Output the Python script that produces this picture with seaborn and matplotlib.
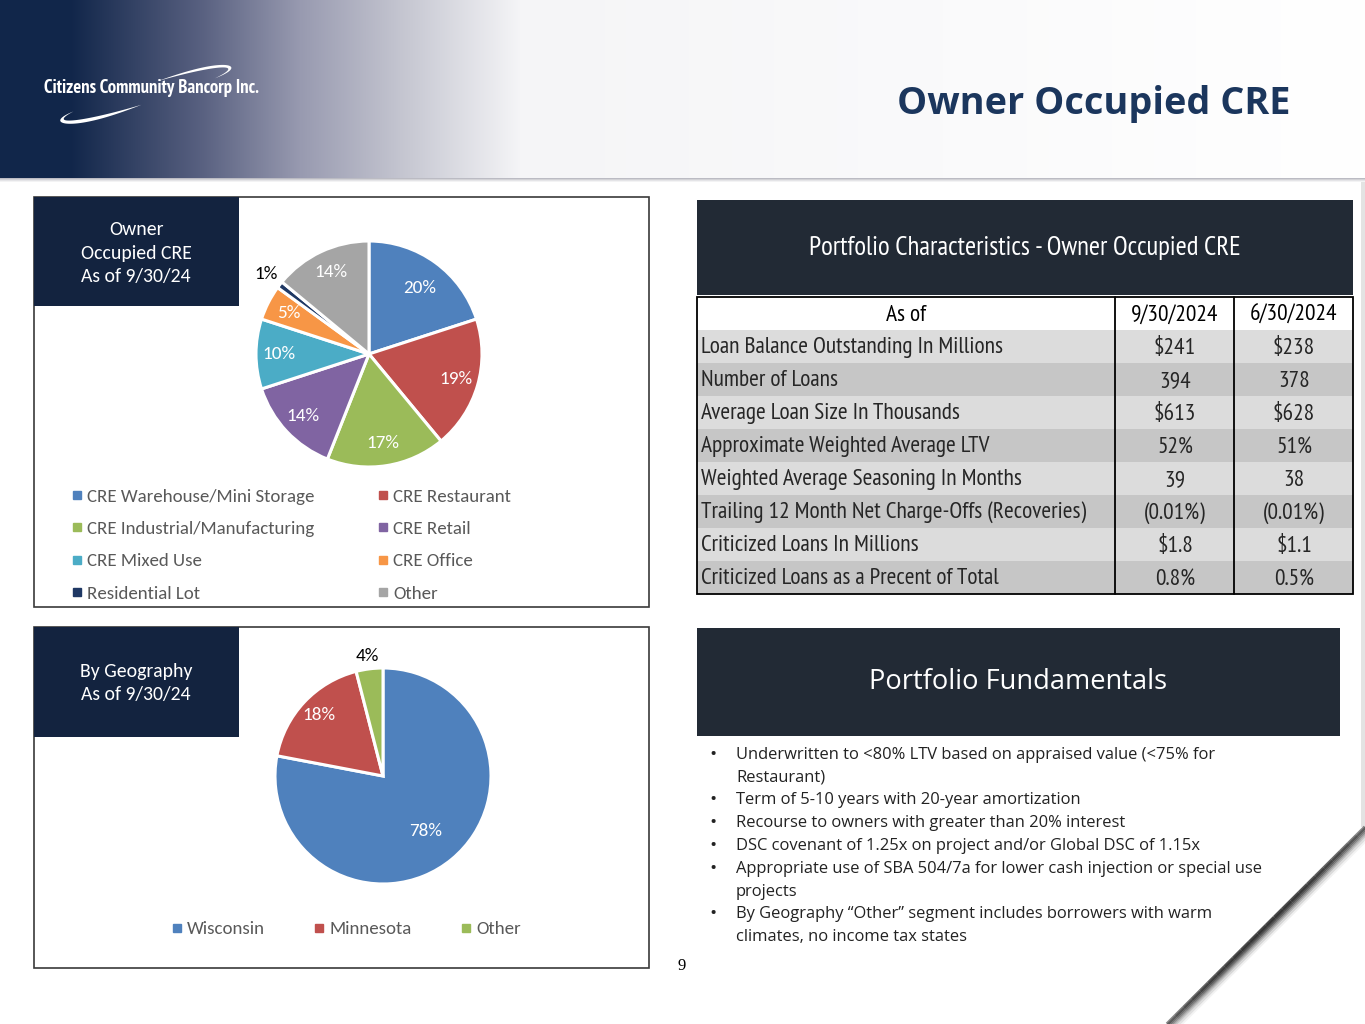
import numpy as np
import matplotlib.pyplot as plt
import seaborn as sns
from matplotlib import font_manager
from matplotlib.patches import Rectangle, Polygon
from matplotlib.lines import Line2D

# ---- data ----
segments = ["CRE Warehouse/Mini Storage", "CRE Restaurant", "CRE Industrial/Manufacturing",
            "CRE Retail", "CRE Mixed Use", "CRE Office", "Residential Lot", "Other"]
segment_pct = [20, 19, 17, 14, 10, 5, 1, 14]

geo_regions = ["Wisconsin", "Minnesota", "Other"]
geo_pct = [78, 18, 4]

table_cols = ["As of", "9/30/2024", "6/30/2024"]
table_rows = ["Loan Balance Outstanding In Millions", "Number of Loans",
              "Average Loan Size In Thousands", "Approximate Weighted Average LTV",
              "Weighted Average Seasoning In Months",
              "Trailing 12 Month Net Charge-Offs (Recoveries)",
              "Criticized Loans In Millions", "Criticized Loans as a Precent of Total"]
values_q3 = ["$241", "394", "$613", "52%", "39", "(0.01%)", "$1.8", "0.8%"]
values_q2 = ["$238", "378", "$628", "51%", "38", "(0.01%)", "$1.1", "0.5%"]

bullets = [
    "Underwritten to <80% LTV based on appraised value (<75% for\nRestaurant)",
    "Term of 5-10 years with 20-year amortization",
    "Recourse to owners with greater than 20% interest",
    "DSC covenant of 1.25x on project and/or Global DSC of 1.15x",
    "Appropriate use of SBA 504/7a for lower cash injection or special use\nprojects",
    "By Geography \u201cOther\u201d segment includes borrowers with warm\nclimates, no income tax states",
]

seg_colors = sns.color_palette(["#4F81BD", "#C0504D", "#9BBB59", "#8064A2",
                                "#4BACC6", "#F79646", "#1F3864", "#A5A5A5"])
geo_colors = sns.color_palette(["#4F81BD", "#C0504D", "#9BBB59"])

sns.set_theme(style="white")
installed = {f.name for f in font_manager.fontManager.ttflist}


def pick(*names):
    for n in names:
        if n in installed:
            return [n, "DejaVu Sans"]
    return ["DejaVu Sans"]


CALIBRI = pick("Carlito", "Lato")
BULLET = pick("Open Sans", "Noto Sans")
NARROW = pick("PT Sans Narrow", "Archivo Narrow", "Roboto Condensed", "Liberation Sans")
LOGO = pick("PT Sans Narrow", "Roboto Condensed", "Roboto")
plt.rcParams["font.family"] = CALIBRI

W, H = 1365, 1024
fig = plt.figure(figsize=(W / 100, H / 100), dpi=100)
fig.patch.set_facecolor("white")
renderer = fig.canvas.get_renderer()


def fit_size(text, width_px, **kw):
    # font size that makes `text` span width_px pixels
    t = fig.text(0, 0, text, fontsize=20, **kw)
    w = t.get_window_extent(renderer).width
    t.remove()
    return 20 * width_px / w


# background axes in pixel coordinates (y down)
bg = fig.add_axes([0, 0, 1, 1])
bg.set_xlim(0, W)
bg.set_ylim(H, 0)
bg.axis("off")

# header gradient
stops_x = [0, 70, 200, 300, 400, 520, W]
stops_c = np.array([[17, 38, 74], [17, 38, 74], [88, 96, 128], [152, 154, 176],
                    [196, 197, 208], [245, 245, 247], [255, 255, 255]]) / 255
xs = np.arange(W)
grad = np.stack([np.interp(xs, stops_x, stops_c[:, k]) for k in range(3)], axis=-1)
bg.imshow(grad[None, :, :], extent=[0, W, 178, 0], aspect="auto", zorder=0)
for i, a in enumerate([0.45, 0.3, 0.18, 0.08]):
    bg.add_patch(Rectangle((0, 178 + i), W, 1, color="#6a6a7a", alpha=a, lw=0, zorder=1))

# logo
logo_fs = fit_size("Citizens Community Bancorp Inc.", 215, family=LOGO, weight="bold")
bg.text(44, 88, "Citizens Community Bancorp Inc.", color="white", fontsize=logo_fs,
        family=LOGO, weight="bold", ha="left", va="center", zorder=3)


def swoosh(t0, t1, thick):
    cx, cy, a, b, th = 146, 94, 86, 9, np.radians(17)
    t = np.linspace(t0, t1, 80)
    w = thick * np.sin(np.pi * (t - t0) / (t1 - t0))
    u_in, v_in = a * np.cos(t), b * np.sin(t)
    u_out, v_out = (a + w) * np.cos(t), (b + w) * np.sin(t)
    u = np.concatenate([u_in, u_out[::-1]])
    v = np.concatenate([v_in, v_out[::-1]])
    x = cx + u * np.cos(th) - v * np.sin(th)
    y = cy - u * np.sin(th) - v * np.cos(th)
    bg.add_patch(Polygon(np.column_stack([x, y]), closed=True, color="white", lw=0, zorder=3))


swoosh(np.radians(-35), np.radians(80), 4)
swoosh(np.radians(150), np.radians(265), 5)

# title
title_fs = fit_size("Owner Occupied CRE", 393, family=BULLET, weight="bold")
bg.text(1290, 104, "Owner Occupied CRE", color="#1B365D", fontsize=title_fs,
        family=BULLET, weight="bold", ha="right", va="center")

# folded corner bottom-right, shadow darkest mid-way along the fold
bg.add_patch(Polygon([[1365, 827], [1365, 1024], [1167, 1024]], closed=True,
                     color="white", lw=0, zorder=4))
s = np.linspace(0, 1, 25)
for off, a in [(0, 0.85), (1.5, 0.65), (3, 0.5), (4.5, 0.35), (6, 0.24), (8, 0.14), (10, 0.07)]:
    for s0, s1 in zip(s[:-1], s[1:]):
        fade = np.sin(np.pi * (0.15 + 0.7 * (s0 + s1) / 2)) ** 0.6
        bg.plot([1365 - 198 * s0 + off * 0.7, 1365 - 198 * s1 + off * 0.7],
                [827 + 197 * s0 + off * 0.7, 827 + 197 * s1 + off * 0.7],
                color="#2a2a2a", alpha=a * fade, lw=2.5, solid_capstyle="butt", zorder=5)
bg.add_patch(Rectangle((1361, 182), 4, 645, color="#b0b0b0", alpha=0.35, lw=0))

# panels and label boxes
label_fs = fit_size("Occupied CRE", 111)
for (x0, y0, x1, y1) in [(34, 197, 649, 607), (34, 627, 649, 968)]:
    bg.add_patch(Rectangle((x0, y0), x1 - x0, y1 - y0, fill=False, ec="#3a3a3a", lw=1.2))
bg.add_patch(Rectangle((34, 197), 205, 109, color="#13233F", lw=0))
bg.add_patch(Rectangle((34, 627), 205, 110, color="#13233F", lw=0))
bg.text(136, 253, "Owner\nOccupied CRE\nAs of 9/30/24", color="white", fontsize=label_fs,
        ha="center", va="center", linespacing=1.45)
bg.text(136, 683, "By Geography\nAs of 9/30/24", color="white", fontsize=label_fs,
        ha="center", va="center", linespacing=1.45)


def pie_axes(cx, cy, r, pad=1.35):
    side = 2 * r * pad
    ax = fig.add_axes([(cx - side / 2) / W, 1 - (cy + side / 2) / H, side / W, side / H])
    return ax, pad


pct_fs = fit_size("20%", 33)

# pie 1 - segments
ax1, p = pie_axes(369, 354, 113)
wedges1, _, auto1 = ax1.pie(segment_pct, colors=seg_colors, startangle=90, counterclock=False,
                            autopct="%.0f%%", pctdistance=0.8,
                            wedgeprops=dict(edgecolor="white", linewidth=2.2),
                            textprops=dict(color="white", fontsize=pct_fs))
ax1.set_xlim(-p, p)
ax1.set_ylim(-p, p)
ax1.set_aspect("equal")
ax1.axis("off")
for w, t in zip(wedges1, auto1):
    mid = np.radians((w.theta1 + w.theta2) / 2)
    if w.theta2 - w.theta1 < 10:
        t.set_position((1.15 * np.cos(mid), 1.15 * np.sin(mid)))
        t.set_color("black")
    elif w.theta2 - w.theta1 > 70:
        t.set_position((0.76 * np.cos(mid), 0.76 * np.sin(mid) - 0.03))

# pie 2 - geography
ax2, p = pie_axes(383, 776, 108)
wedges2, _, auto2 = ax2.pie(geo_pct, colors=geo_colors, startangle=90, counterclock=False,
                            autopct="%.0f%%", pctdistance=0.7,
                            wedgeprops=dict(edgecolor="white", linewidth=2.2),
                            textprops=dict(color="white", fontsize=pct_fs))
ax2.set_xlim(-p, p)
ax2.set_ylim(-p, p)
ax2.set_aspect("equal")
ax2.axis("off")
for w, t in zip(wedges2, auto2):
    mid = np.radians((w.theta1 + w.theta2) / 2)
    if w.theta2 - w.theta1 < 20:
        t.set_position((1.12 * np.cos(mid), 1.12 * np.sin(mid)))
        t.set_color("black")
    elif w.theta2 - w.theta1 > 180:
        t.set_position((0.62 * np.cos(mid), 0.62 * np.sin(mid) - 0.03))
    else:
        t.set_position((0.82 * np.cos(mid), 0.82 * np.sin(mid)))

# legends
leg_fs = fit_size("CRE Industrial/Manufacturing", 228)


def handle(c):
    return Line2D([0], [0], marker="s", color="w", markerfacecolor=c, markeredgecolor=c,
                  markersize=6, linestyle="")


leg_kw = dict(frameon=False, fontsize=leg_fs, labelcolor="#595959", handletextpad=0.25,
              handlelength=0.6, borderpad=0, borderaxespad=0, loc="center left")
for cols, x in [([0, 2, 4, 6], 71), ([1, 3, 5, 7], 377)]:
    fig.legend([handle(seg_colors[i]) for i in cols], [segments[i] for i in cols],
               bbox_to_anchor=(x / W, 1 - 545 / H), labelspacing=0.85, **leg_kw)
fig.legend([handle(c) for c in geo_colors], geo_regions, ncol=3, columnspacing=2.55,
           bbox_to_anchor=(171 / W, 1 - 929 / H), **leg_kw)

# portfolio characteristics table
bg.add_patch(Rectangle((697, 200), 656, 95, color="#222A35", lw=0))
head_fs = fit_size("Portfolio Characteristics - Owner Occupied CRE", 431, family=NARROW)
bg.text(1025, 248, "Portfolio Characteristics - Owner Occupied CRE", color="white",
        fontsize=head_fs, family=NARROW, ha="center", va="center")

tab_fs = fit_size("Trailing 12 Month Net Charge-Offs (Recoveries)", 383, family=NARROW)
top, rh = 297, 33
col_x = [697, 1115, 1234, 1353]
bg.add_patch(Rectangle((697, top), 656, rh, color="white", lw=0))
for j, c in enumerate(table_cols):
    bg.text((col_x[j] + col_x[j + 1]) / 2, top + rh / 2 + 2, c, fontsize=tab_fs,
            family=NARROW, ha="center", va="center", color="black")
for i, (lab, v3, v2) in enumerate(zip(table_rows, values_q3, values_q2)):
    y = top + rh * (i + 1)
    bg.add_patch(Rectangle((697, y), 656, rh, color="#DCDCDC" if i % 2 == 0 else "#C6C6C6", lw=0))
    bg.text(701, y + rh / 2 + 1, lab, fontsize=tab_fs, family=NARROW, ha="left", va="center")
    bg.text(1175, y + rh / 2 + 2, v3, fontsize=tab_fs, family=NARROW, ha="center", va="center")
    bg.text(1294, y + rh / 2 + 2, v2, fontsize=tab_fs, family=NARROW, ha="center", va="center")
bot = top + rh * (len(table_rows) + 1)
bg.add_patch(Rectangle((697, top), 656, bot - top, fill=False, ec="black", lw=1.3))
for x in col_x[1:3]:
    bg.plot([x, x], [top, bot], color="black", lw=1.3)

# portfolio fundamentals
bg.add_patch(Rectangle((697, 628), 643, 108, color="#222A35", lw=0))
pf_fs = fit_size("Portfolio Fundamentals", 297, family=BULLET)
bg.text(1018, 682, "Portfolio Fundamentals", color="white", fontsize=pf_fs, family=BULLET,
        ha="center", va="center")

bul_fs = fit_size("Appropriate use of SBA 504/7a for lower cash injection or special use", 529,
                  family=BULLET)
y = 755
for b in bullets:
    bg.text(713, y, "\u2022", fontsize=bul_fs * 1.15, family=BULLET, ha="center", va="center",
            color="#222222")
    for line in b.split("\n"):
        bg.text(736, y, line, fontsize=bul_fs, family=BULLET, ha="left", va="center",
                color="#222222")
        y += 22.75

bg.text(682, 966, "9", fontsize=12, family=["Liberation Serif", "DejaVu Serif"],
        ha="center", va="center", color="black")

fig.savefig("out.png", dpi=100)
